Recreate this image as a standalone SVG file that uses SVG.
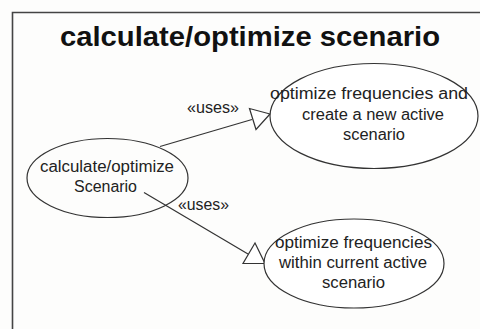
<svg xmlns="http://www.w3.org/2000/svg" width="480" height="329" viewBox="0 0 480 329">
<defs>
<style>
.t{font-family:"Liberation Sans",Arial,sans-serif;font-size:16px;fill:#222;text-anchor:middle}
.title{font-family:"Liberation Sans",Arial,sans-serif;font-size:28px;font-weight:bold;fill:#111;text-anchor:middle}
.uc{fill:#fff;stroke:#333;stroke-width:1.2}
.c{stroke:#333;stroke-width:1.2;fill:none}
.ah{fill:#fff;stroke:#333;stroke-width:1.2}
</style>
</defs>
<rect x="0" y="0" width="480" height="329" fill="#fdfdfc"/>
<polyline points="12.5,329 12.5,12.5 480,12.5" fill="none" stroke="#444" stroke-width="1.6"/>
<text class="title" x="250" y="46" textLength="380" lengthAdjust="spacingAndGlyphs">calculate/optimize scenario</text>
<g id="connectors">
<line class="c" x1="160" y1="146.5" x2="252" y2="119.5"/>
<polygon class="ah" points="270,114 249.5,108.5 256,129.5"/>
<text class="t" x="213" y="113" textLength="52" lengthAdjust="spacingAndGlyphs">«uses»</text>
<line class="c" x1="144" y1="192.5" x2="248" y2="254"/>
<polygon class="ah" points="255,243 243,263.5 265,263.5"/>
<text class="t" x="203.5" y="210" textLength="51" lengthAdjust="spacingAndGlyphs">«uses»</text>
</g>
<g id="calc">
<ellipse class="uc" cx="107.5" cy="178" rx="80.5" ry="39.5" fill-opacity="0"/>
<text class="t" x="107" y="172" textLength="134" lengthAdjust="spacingAndGlyphs">calculate/optimize</text>
<text class="t" x="105.5" y="192" textLength="63" lengthAdjust="spacingAndGlyphs">Scenario</text>
</g>
<g id="optNew">
<ellipse class="uc" cx="374" cy="116" rx="104" ry="52.5"/>
<text class="t" x="369" y="99" textLength="198" lengthAdjust="spacingAndGlyphs">optimize frequencies and</text>
<text class="t" x="373" y="120" textLength="142" lengthAdjust="spacingAndGlyphs">create a new active</text>
<text class="t" x="374" y="140" textLength="62" lengthAdjust="spacingAndGlyphs">scenario</text>
</g>
<g id="optCur">
<ellipse class="uc" cx="354" cy="263.5" rx="90" ry="44.5"/>
<text class="t" x="353.5" y="248" textLength="157" lengthAdjust="spacingAndGlyphs">optimize frequencies</text>
<text class="t" x="353" y="268" textLength="148" lengthAdjust="spacingAndGlyphs">within current active</text>
<text class="t" x="353.5" y="288" textLength="63" lengthAdjust="spacingAndGlyphs">scenario</text>
</g>
</svg>
